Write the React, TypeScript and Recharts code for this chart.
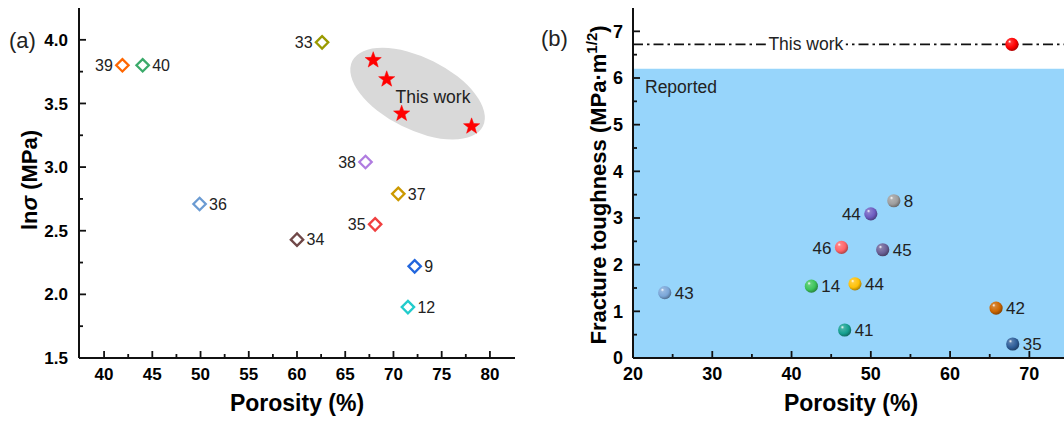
import * as React from 'react';
import {
  ScatterChart,
  Scatter,
  XAxis,
  YAxis,
  ReferenceArea,
  ReferenceLine,
} from 'recharts';

// (a) ln(sigma) vs porosity, literature
const leftRefs = ['33', '39', '40', '36', '34', '38', '37', '35', '9', '12'];
const leftPorosity = [62.6, 41.9, 44.0, 49.9, 60.0, 67.1, 70.5, 68.1, 72.2, 71.5];
const leftLnSigma = [3.98, 3.8, 3.8, 2.71, 2.43, 3.04, 2.79, 2.55, 2.22, 1.9];

// (a) this work
const starPorosity = [67.9, 69.3, 70.85, 78.1];
const starLnSigma = [3.84, 3.69, 3.42, 3.32];
const ellipseCenter = [72.5, 3.577];

// (b) fracture toughness vs porosity
const rightRefs = ['43', '14', '44', '41', '46', '45', '44', '8', '42', '35'];
const rightPorosity = [24.0, 42.5, 48.0, 46.7, 46.3, 51.5, 50.0, 52.9, 65.8, 67.9];
const rightToughness = [1.4, 1.54, 1.59, 0.6, 2.37, 2.32, 3.09, 3.37, 1.07, 0.3];

const thisWorkPorosity = 67.8;
const thisWorkToughness = 6.72;
const reportedLimit = 6.2;
const lineTagPorosity = 41.8;

// axis ticks (major labelled, minor unlabelled)
const leftXTicks = [40, 45, 50, 55, 60, 65, 70, 75, 80];
const leftXMinor = [42.5, 47.5, 52.5, 57.5, 62.5, 67.5, 72.5, 77.5];
const leftYTicks = [1.5, 2.0, 2.5, 3.0, 3.5, 4.0];
const leftYMinor = [1.75, 2.25, 2.75, 3.25, 3.75];
const rightXTicks = [20, 30, 40, 50, 60, 70];
const rightXMinor = [25, 35, 45, 55, 65];
const rightYTicks = [0, 1, 2, 3, 4, 5, 6, 7];
const rightYMinor = [0.5, 1.5, 2.5, 3.5, 4.5, 5.5, 6.5];

const LEFT_X_DOMAIN: [number, number] = [37.4, 82.6];
const LEFT_Y_DOMAIN: [number, number] = [1.5, 4.25];
const RIGHT_X_DOMAIN: [number, number] = [20, 75];
const RIGHT_Y_DOMAIN: [number, number] = [0, 7.5];

const LEFT_COLORS = ['#9A9A00', '#FF6600', '#3BAA6A', '#6B9BD2', '#704848', '#B07CE0', '#CC9900', '#F04040', '#2266DD', '#22CCCC'];
const LEFT_SIDES = ['l', 'l', 'r', 'r', 'r', 'l', 'r', 'l', 'r', 'r'];
const RIGHT_COLORS = ['#7AA6D8', '#3CC45A', '#FFC107', '#15A090', '#FF6468', '#6B6096', '#6E5CC0', '#9E9E9E', '#CC6600', '#2E5E99'];
const RIGHT_SIDES = ['r', 'r', 'r', 'r', 'l', 'r', 'l', 'r', 'r', 'r'];

const FONT = '"Liberation Sans", Arial, Helvetica, sans-serif';
const AXIS = '#111';

const leftTable = leftRefs.map((ref, i) => ({
  x: leftPorosity[i], y: leftLnSigma[i], ref, color: LEFT_COLORS[i], side: LEFT_SIDES[i],
}));
const starTable = starPorosity.map((x, i) => ({ x, y: starLnSigma[i] }));
const ellipseTable = [{ x: ellipseCenter[0], y: ellipseCenter[1] }];
const rightTable = rightRefs.map((ref, i) => ({
  x: rightPorosity[i], y: rightToughness[i], ref, color: RIGHT_COLORS[i], side: RIGHT_SIDES[i],
}));
const thisWorkTable = [{ x: thisWorkPorosity, y: thisWorkToughness, ref: '', color: '#FF0000', side: 'r' }];
const lineTagTable = [{ x: lineTagPorosity, y: thisWorkToughness }];

const allTicks = (major: number[], minor: number[]) => [...major, ...minor].sort((a, b) => a - b);

function mix(hex: string, f: number, target: number) {
  const n = parseInt(hex.slice(1), 16);
  const c = [(n >> 16) & 255, (n >> 8) & 255, n & 255].map((v) => Math.round(v + (target - v) * f));
  return `rgb(${c[0]},${c[1]},${c[2]})`;
}

// ticks drawn by hand so they point into the plot; minor ones get no label
function BottomTick(props: any) {
  const { x, y, payload, major, gap, fontSize, fmt } = props;
  const isMajor = major.includes(payload.value);
  return (
    <g>
      <path d={`M${x},${y}V${y - (isMajor ? 7 : 4)}`} stroke={AXIS} strokeWidth={1.8} fill="none" />
      {isMajor ? (
        <text x={x} y={y + gap} dy="0.71em" textAnchor="middle" fontSize={fontSize}
          fontWeight="bold" fontFamily={FONT} fill="#000">
          {fmt ? fmt(payload.value) : payload.value}
        </text>
      ) : null}
    </g>
  );
}

function LeftTick(props: any) {
  const { x, y, payload, major, gap, fontSize, fmt } = props;
  const isMajor = major.includes(payload.value);
  return (
    <g>
      <path d={`M${x},${y}H${x + (isMajor ? 7 : 4)}`} stroke={AXIS} strokeWidth={1.8} fill="none" />
      {isMajor ? (
        <text x={x - gap} y={y} dy="0.36em" textAnchor="end" fontSize={fontSize}
          fontWeight="bold" fontFamily={FONT} fill="#000">
          {fmt ? fmt(payload.value) : payload.value}
        </text>
      ) : null}
    </g>
  );
}

function Diamond(props: any) {
  const { cx, cy, payload } = props;
  const h = 6.2;
  const right = payload.side === 'r';
  return (
    <g>
      <path
        d={`M${cx},${cy - h}L${cx + h},${cy}L${cx},${cy + h}L${cx - h},${cy}Z`}
        fill="#fff"
        stroke={payload.color}
        strokeWidth={2.3}
      />
      <text
        x={right ? cx + 9.5 : cx - 9.5}
        y={cy}
        dy="0.36em"
        textAnchor={right ? 'start' : 'end'}
        fontSize={16}
        fontFamily={FONT}
        fill="#222"
      >
        {payload.ref}
      </text>
    </g>
  );
}

function Star(props: any) {
  const { cx, cy } = props;
  const R = 8.5;
  const r = 3.5;
  let d = '';
  for (let k = 0; k < 10; k++) {
    const a = -Math.PI / 2 + (k * Math.PI) / 5;
    const rad = k % 2 === 0 ? R : r;
    d += `${k === 0 ? 'M' : 'L'}${cx + rad * Math.cos(a)},${cy + rad * Math.sin(a)}`;
  }
  return <path d={d + 'Z'} fill="#FF0000" stroke="#FF0000" strokeWidth={0.5} />;
}

function Blob(props: any) {
  const { cx, cy } = props;
  return (
    <g>
      <ellipse cx={cx} cy={cy} rx={73} ry={36} fill="#D9D9D9" transform={`rotate(26.5 ${cx} ${cy})`} />
      <text x={cx - 22} y={cy + 3} dy="0.36em" fontSize={17.5} fontFamily={FONT} fill="#222">
        This work
      </text>
    </g>
  );
}

function Sphere(props: any) {
  const { cx, cy, payload } = props;
  const id = `sph-${payload.color.slice(1)}`;
  const right = payload.side === 'r';
  return (
    <g>
      <defs>
        <radialGradient id={id} cx="40%" cy="38%" r="65%" fx="32%" fy="28%">
          <stop offset="0%" stopColor="#ffffff" />
          <stop offset="20%" stopColor={mix(payload.color, 0.2, 255)} />
          <stop offset="65%" stopColor={payload.color} />
          <stop offset="100%" stopColor={mix(payload.color, 0.35, 0)} />
        </radialGradient>
      </defs>
      <circle cx={cx} cy={cy} r={6.6} fill={`url(#${id})`} />
      {payload.ref ? (
        <text
          x={right ? cx + 10 : cx - 10}
          y={cy}
          dy="0.36em"
          textAnchor={right ? 'start' : 'end'}
          fontSize={17}
          fontFamily={FONT}
          fill="#222"
        >
          {payload.ref}
        </text>
      ) : null}
    </g>
  );
}

function LineTag(props: any) {
  const { cx, cy } = props;
  return (
    <g>
      <rect x={cx - 40} y={cy - 9} width={80} height={18} fill="#fff" />
      <text x={cx} y={cy} dy="0.3em" textAnchor="middle" fontSize={17.5} fontFamily={FONT} fill="#222">
        This work
      </text>
    </g>
  );
}

function LeftYTitle(props: any) {
  const { viewBox } = props;
  const x = viewBox.x + 37;
  const y = viewBox.y + viewBox.height / 2 - 3;
  return (
    <text
      x={x}
      y={y}
      transform={`rotate(-90 ${x} ${y})`}
      textAnchor="middle"
      fontSize={22}
      fontWeight="bold"
      fontFamily={FONT}
      fill="#000"
    >
      ln<tspan fontStyle="italic">σ</tspan> (MPa)
    </text>
  );
}

function RightYTitle(props: any) {
  const { viewBox } = props;
  const x = viewBox.x + 76;
  const y = viewBox.y + viewBox.height / 2 + 2;
  return (
    <text
      x={x}
      y={y}
      transform={`rotate(-90 ${x} ${y})`}
      textAnchor="middle"
      fontSize={22}
      fontWeight="bold"
      fontFamily={FONT}
      fill="#000"
    >
      Fracture toughness (MPa·m
      <tspan fontSize={15} dy={-9}>1/2</tspan>
      <tspan dy={9}>)</tspan>
    </text>
  );
}

const axisLineStyle = { stroke: AXIS, strokeWidth: 2 };
const xTitle = {
  value: 'Porosity (%)',
  position: 'insideBottom' as const,
  offset: 12,
  style: { fontSize: 23, fontWeight: 'bold', fill: '#000', fontFamily: FONT },
};
const fmt1 = (v: number) => v.toFixed(1);

export default function App() {
  return (
    <div
      style={{
        position: 'absolute',
        left: 0,
        top: 0,
        width: 1064,
        height: 423,
        overflow: 'hidden',
        background: '#fff',
      }}
    >
      <div style={{ position: 'absolute', left: 0, top: 0 }}>
        <ScatterChart width={530} height={423} margin={{ top: 8, right: 15, bottom: 0, left: 0 }}>
          <XAxis xAxisId="top" orientation="top" type="number" dataKey="x" domain={LEFT_X_DOMAIN}
            height={0} tick={false} tickLine={false} axisLine={axisLineStyle} allowDataOverflow />
          <YAxis yAxisId="right" orientation="right" type="number" dataKey="y" domain={LEFT_Y_DOMAIN}
            width={0} tick={false} tickLine={false} axisLine={axisLineStyle} allowDataOverflow />
          <XAxis type="number" dataKey="x" domain={LEFT_X_DOMAIN} ticks={allTicks(leftXTicks, leftXMinor)}
            height={65} interval={0} tickSize={0} tickMargin={0} tickLine={false} axisLine={axisLineStyle}
            allowDataOverflow label={xTitle}
            tick={(p: any) => <BottomTick {...p} major={leftXTicks} gap={10} fontSize={17} />} />
          <YAxis type="number" dataKey="y" domain={LEFT_Y_DOMAIN} ticks={allTicks(leftYTicks, leftYMinor)}
            width={79} interval={0} tickSize={0} tickMargin={0} tickLine={false} axisLine={axisLineStyle}
            allowDataOverflow label={(p: any) => <LeftYTitle {...p} />}
            tick={(p: any) => <LeftTick {...p} major={leftYTicks} gap={11} fontSize={17} fmt={fmt1} />} />
          <Scatter data={ellipseTable} shape={Blob} isAnimationActive={false} />
          <Scatter data={leftTable} shape={Diamond} isAnimationActive={false} />
          <Scatter data={starTable} shape={Star} isAnimationActive={false} />
        </ScatterChart>
      </div>

      <div style={{ position: 'absolute', left: 530, top: 0 }}>
        <ScatterChart width={545} height={423} margin={{ top: 8, right: 6, bottom: 0, left: 0 }}>
          <ReferenceArea y1={0} y2={reportedLimit} fill="#97D5FB" fillOpacity={1} stroke="none"
            label={{ value: 'Reported', position: 'insideTopLeft', offset: 12,
              style: { fontSize: 17.5, fill: '#222', fontFamily: FONT } }} />
          <XAxis xAxisId="top" orientation="top" type="number" dataKey="x" domain={RIGHT_X_DOMAIN}
            height={0} tick={false} tickLine={false} axisLine={axisLineStyle} allowDataOverflow />
          <YAxis yAxisId="right" orientation="right" type="number" dataKey="y" domain={RIGHT_Y_DOMAIN}
            width={0} tick={false} tickLine={false} axisLine={axisLineStyle} allowDataOverflow />
          <XAxis type="number" dataKey="x" domain={RIGHT_X_DOMAIN} ticks={allTicks(rightXTicks, rightXMinor)}
            height={65} interval={0} tickSize={0} tickMargin={0} tickLine={false} axisLine={axisLineStyle}
            allowDataOverflow label={xTitle}
            tick={(p: any) => <BottomTick {...p} major={rightXTicks} gap={9} fontSize={18} />} />
          <YAxis type="number" dataKey="y" domain={RIGHT_Y_DOMAIN} ticks={allTicks(rightYTicks, rightYMinor)}
            width={103} interval={0} tickSize={0} tickMargin={0} tickLine={false} axisLine={axisLineStyle}
            allowDataOverflow label={(p: any) => <RightYTitle {...p} />}
            tick={(p: any) => <LeftTick {...p} major={rightYTicks} gap={10} fontSize={18} />} />
          <ReferenceLine y={thisWorkToughness} stroke="#111" strokeWidth={1.6} strokeDasharray="10 4 2.5 4" />
          <Scatter data={lineTagTable} shape={LineTag} isAnimationActive={false} />
          <Scatter data={rightTable} shape={Sphere} isAnimationActive={false} />
          <Scatter data={thisWorkTable} shape={Sphere} isAnimationActive={false} />
        </ScatterChart>
      </div>

      <svg width={1064} height={423} style={{ position: 'absolute', left: 0, top: 0, pointerEvents: 'none' }}>
        <text x={9} y={48} fontSize={22} fontFamily={FONT} fill="#222">(a)</text>
        <text x={541} y={46} fontSize={22} fontFamily={FONT} fill="#222">(b)</text>
      </svg>
    </div>
  );
}
